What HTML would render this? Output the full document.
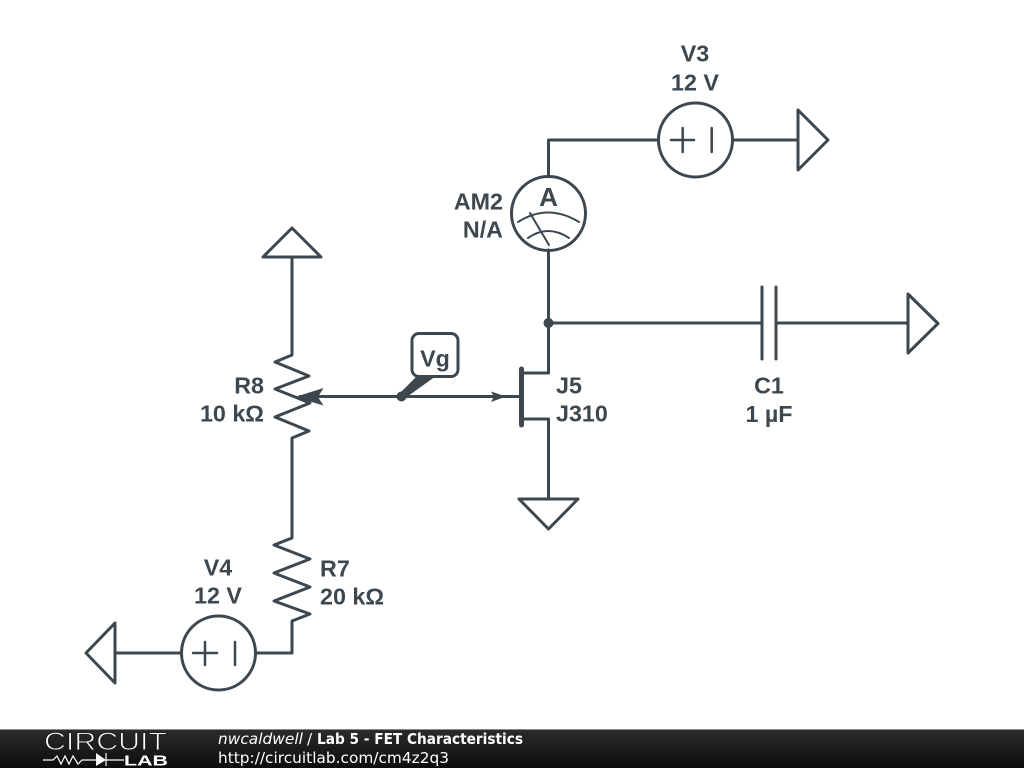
<!DOCTYPE html>
<html><head><meta charset="utf-8"><style>
html,body{margin:0;padding:0;background:#fff;width:1024px;height:768px;overflow:hidden}
svg{display:block}
.w{fill:none;stroke:#3d474d;stroke-width:3;stroke-linecap:round;stroke-linejoin:round}
.t{font-family:"Liberation Sans",sans-serif;font-weight:bold;font-size:23.3px;fill:#3d474d}
.f{font-family:"DejaVu Sans",sans-serif;font-size:15.4px;fill:#fff}
</style></head><body>
<svg width="1024" height="768" viewBox="0 0 1024 768" xmlns="http://www.w3.org/2000/svg">
<defs><linearGradient id="g" x1="0" y1="0" x2="0" y2="1"><stop offset="0" stop-color="#2c2c2c"/><stop offset="1" stop-color="#0c0c0c"/></linearGradient></defs>
<rect width="1024" height="768" fill="#fff"/>
<g class="w">
<!-- V3 branch -->
<path d="M548.500 176V140H658M733 140H798"/>
<circle cx="695.500" cy="140" r="37"/>
<path d="M671 140H694M682.700 128V152M711.700 128V152" stroke-width="2.500"/>
<path d="M798 110L828 140L798 170Z"/>
<!-- ammeter -->
<circle cx="548.500" cy="213.500" r="37"/>
<path d="M518 222Q548 203 579 222M528 238Q548 224 569 238M530 213L549 245" stroke-width="2"/>
<!-- drain/source -->
<path d="M548.500 250V373H522M522 419H548.500V499"/>
<path d="M519 499H578L548.500 529Z"/>
<path d="M521.500 369V425" stroke-width="5"/>
<!-- capacitor -->
<path d="M548.500 323H762M776 323H908M762 287V359M776 287V359"/>
<path d="M908 294L938 323.500L908 353Z"/>
<!-- R8 -->
<path d="M263 257H321L292 228ZM292 257V355L275 362L309 376L275 389L310 403L275 417L309 431L292 438V538L274 545L310 559L274 573L310 587L274 601L310 614L292 621V653H256"/>
<!-- V4 -->
<circle cx="218.500" cy="653" r="37"/>
<path d="M193 653H217M205 642V665M235 642V665" stroke-width="2.500"/>
<path d="M181 653H115M115 623L86 653L115 683Z"/>
<!-- gate wire -->
<path d="M300 396.500H520"/>
<!-- flag -->
<rect x="412" y="333.500" width="46" height="43" rx="7"/>
</g>
<g fill="#3d474d">
<circle cx="548.500" cy="323" r="5"/>
<circle cx="401.500" cy="396.500" r="5"/>
<path d="M295 397L323.500 388L318 397L323.500 405.500Z"/>
<path d="M491 391.500L506 396.500L491 402L494 396.500Z"/>
<path d="M399 394L417 376H436L404 399Z"/>
</g>
<text class="t" x="695" y="61.500" text-anchor="middle">V3</text>
<text class="t" x="695" y="90.500" text-anchor="middle">12 V</text>
<text class="t" x="503" y="209.500" text-anchor="end">AM2</text>
<text class="t" x="503" y="237.500" text-anchor="end">N/A</text>
<text class="t" x="548.500" y="206" text-anchor="middle" style="font-size:26px">A</text>
<text class="t" x="435" y="366.500" text-anchor="middle">Vg</text>
<text class="t" x="264" y="393.500" text-anchor="end">R8</text>
<text class="t" x="264" y="421.500" text-anchor="end">10 kΩ</text>
<text class="t" x="556" y="393.500">J5</text>
<text class="t" x="556" y="421.500">J310</text>
<text class="t" x="769" y="393.500" text-anchor="middle">C1</text>
<text class="t" x="769" y="422" text-anchor="middle">1 µF</text>
<text class="t" x="320" y="576.500">R7</text>
<text class="t" x="320" y="604.500">20 kΩ</text>
<text class="t" x="218" y="575.500" text-anchor="middle">V4</text>
<text class="t" x="218" y="603.500" text-anchor="middle">12 V</text>
<!-- footer -->
<rect x="0" y="729" width="1024" height="39" fill="url(#g)"/>
<rect x="0" y="729" width="1024" height="1" fill="#8a8a8a"/>
<text x="44" y="750" textLength="123" lengthAdjust="spacingAndGlyphs" style="font-family:'Liberation Sans',sans-serif;font-size:25px;fill:#fff;stroke:#1e1e1e;stroke-width:.9">CIRCUIT</text>
<text x="124" y="765.500" textLength="44" lengthAdjust="spacingAndGlyphs" style="font-family:'Liberation Sans',sans-serif;font-weight:bold;font-size:15px;fill:#fff">LAB</text>
<path d="M43 760H53L57 756L61 764L65 756L69 764L73 756L78 764L82 760H96M124 760H106M106 753V766" fill="none" stroke="#fff" stroke-width="1.200"/>
<path d="M96 753L106 760L96 766Z" fill="#fff"/>
<text class="f" x="218" y="744" font-style="italic">nwcaldwell</text>
<text class="f" x="307" y="744">/</text>
<text class="f" x="317" y="744" font-weight="bold" textLength="206" lengthAdjust="spacingAndGlyphs">Lab 5 - FET Characteristics</text>
<text class="f" x="218" y="763" textLength="231" lengthAdjust="spacingAndGlyphs">http://circuitlab.com/cm4z2q3</text>
</svg>
</body></html>
